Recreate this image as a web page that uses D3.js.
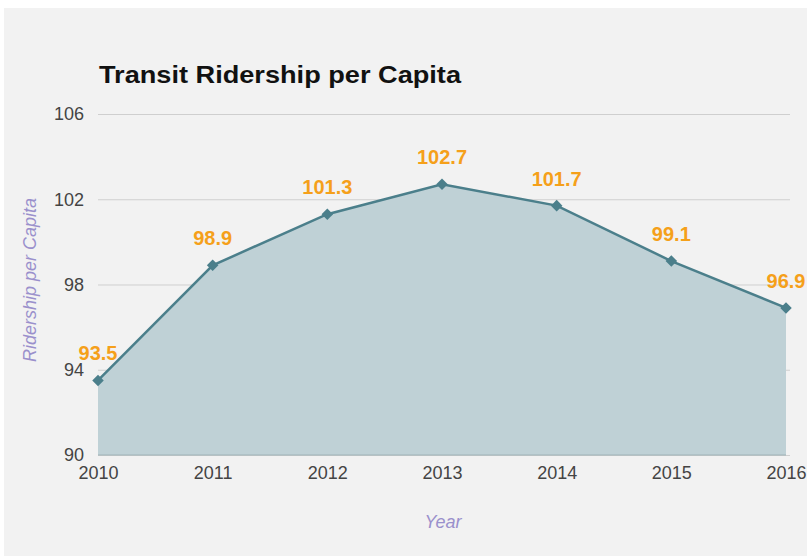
<!DOCTYPE html>
<html>
<head>
<meta charset="utf-8">
<script src="https://cdn.jsdelivr.net/npm/d3@7"></script>
<style>
  body { margin: 0; background: #fff; overflow: hidden; }
  svg { display: block; font-family: Arial, "Liberation Sans", sans-serif; }
</style>
</head>
<body>
<svg id="bg" width="807" height="556"></svg>
<script>
var years = [2010, 2011, 2012, 2013, 2014, 2015, 2016];
var ridership = [93.5, 98.9, 101.3, 102.7, 101.7, 99.1, 96.9];
var yTicks = [90, 94, 98, 102, 106];

var data = years.map((y, i) => ({ year: y, value: ridership[i] }));

var xScale = d3.scaleLinear()
  .domain([2010, 2016])
  .range([98, 786]);

var yScale = d3.scaleLinear()
  .domain([90, 106])
  .range([455, 114]);

var svg = d3.select('#bg');

// fondo del panel
svg.append('rect')
  .attr('x', 4).attr('y', 8)
  .attr('width', 803).attr('height', 548)
  .attr('fill', '#f2f2f2');

// titulo
svg.append('text')
  .text('Transit Ridership per Capita')
  .attr('x', 99).attr('y', 83)
  .attr('font-size', '24px')
  .attr('font-weight', 'bold')
  .attr('textLength', 362)
  .attr('lengthAdjust', 'spacingAndGlyphs')
  .attr('fill', '#111');

// grid + eje y
var yAxis = svg.append('g')
  .attr('transform', 'translate(98,0)')
  .call(d3.axisLeft(yScale).tickValues(yTicks).tickSize(-692).tickPadding(14).tickFormat(d3.format('d')));
yAxis.select('.domain').remove();
yAxis.selectAll('.tick line').attr('stroke', '#cfcfcf');
yAxis.selectAll('.tick text')
  .attr('font-size', '18px')
  .attr('font-family', 'Arial, "Liberation Sans", sans-serif')
  .attr('fill', '#444');

// area
var area = d3.area()
  .x(d => xScale(d.year))
  .y0(yScale(90))
  .y1(d => yScale(d.value));

svg.append('path')
  .datum(data)
  .attr('fill', '#bfd1d6')
  .attr('d', area);

var line = d3.line()
  .x(d => xScale(d.year))
  .y(d => yScale(d.value));

svg.append('path')
  .datum(data)
  .attr('fill', 'none')
  .attr('stroke', '#4b7f8b')
  .attr('stroke-width', 2.5)
  .attr('d', line);

// linea base
svg.append('line')
  .attr('x1', xScale(2010)).attr('x2', xScale(2016))
  .attr('y1', yScale(90)).attr('y2', yScale(90))
  .attr('stroke', '#9fb3b8')
  .attr('stroke-width', 1);

// eje x
var xAxis = svg.append('g')
  .attr('transform', 'translate(0,' + yScale(90) + ')')
  .call(d3.axisBottom(xScale).tickValues(years).tickSize(0).tickPadding(11).tickFormat(d3.format('d')));
xAxis.select('.domain').remove();
xAxis.selectAll('.tick text')
  .attr('font-size', '18px')
  .attr('font-family', 'Arial, "Liberation Sans", sans-serif')
  .attr('fill', '#444');

// marcadores
svg.selectAll('.pt')
  .data(data)
  .join('path')
  .attr('class', 'pt')
  .attr('d', d3.symbol().type(d3.symbolDiamond2).size(85))
  .attr('transform', d => 'translate(' + xScale(d.year) + ',' + yScale(d.value) + ')')
  .attr('fill', '#4b7f8b');

// etiquetas de valores
svg.selectAll('.lbl')
  .data(data)
  .join('text')
  .attr('class', 'lbl')
  .text(d => d.value.toFixed(1))
  .attr('x', d => xScale(d.year))
  .attr('y', d => yScale(d.value) - 20)
  .attr('text-anchor', 'middle')
  .attr('font-size', '20px')
  .attr('font-weight', 'bold')
  .attr('fill', '#f5a01a');

// titulos de ejes
svg.append('text')
  .text('Year')
  .attr('x', 443).attr('y', 528)
  .attr('text-anchor', 'middle')
  .attr('font-size', '18px')
  .attr('font-style', 'italic')
  .attr('fill', '#9a90cc');

svg.append('text')
  .text('Ridership per Capita')
  .attr('transform', 'translate(36,280) rotate(-90)')
  .attr('text-anchor', 'middle')
  .attr('font-size', '18px')
  .attr('font-style', 'italic')
  .attr('fill', '#9a90cc');
</script>
</body>
</html>
